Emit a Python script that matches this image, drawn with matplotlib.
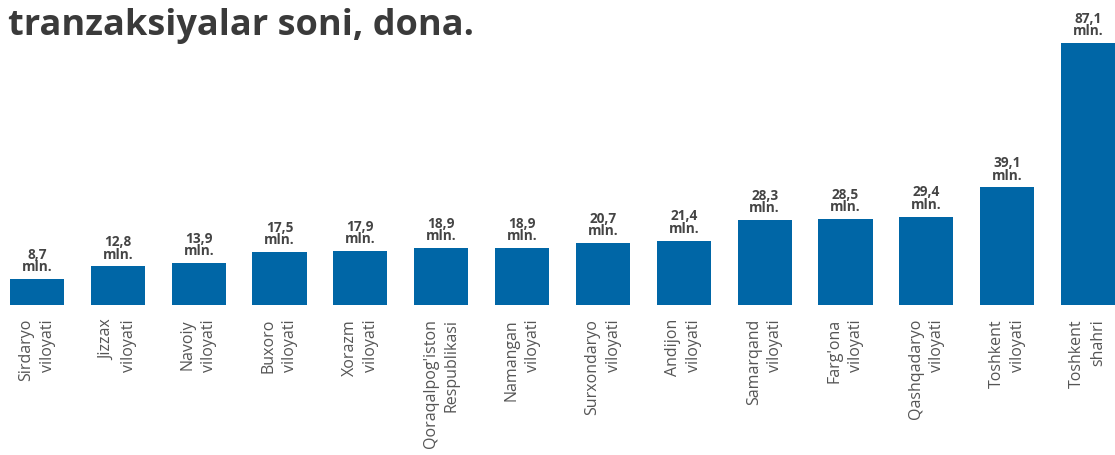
import matplotlib
matplotlib.use("Agg")
import matplotlib.pyplot as plt

# Regions and transaction counts (million)
regions = [
    "Sirdaryo\nviloyati", "Jizzax\nviloyati", "Navoiy\nviloyati", "Buxoro\nviloyati",
    "Xorazm\nviloyati", "Qoraqalpog'iston\nRespublikasi", "Namangan\nviloyati",
    "Surxondaryo\nviloyati", "Andijon\nviloyati", "Samarqand\nviloyati",
    "Farg'ona\nviloyati", "Qashqadaryo\nviloyati", "Toshkent\nviloyati", "Toshkent\nshahri",
]
values = [8.7, 12.8, 13.9, 17.5, 17.9, 18.9, 18.9, 20.7, 21.4, 28.3, 28.5, 29.4, 39.1, 87.1]
value_labels = ["8,7", "12,8", "13,9", "17,5", "17,9", "18,9", "18,9", "20,7",
                "21,4", "28,3", "28,5", "29,4", "39,1", "87,1"]
title_text = "tranzaksiyalar soni, dona."

BAR_COLOR = "#0066a6"
TEXT_COLOR = "#444444"
FONT = "Open Sans"

W, H = 1115, 455
fig = plt.figure(figsize=(W / 100, H / 100), dpi=100)
base_px = 150  # baseline height from the bottom of the figure
ax = fig.add_axes([0, base_px / H, 1, (H - base_px) / H])

x = list(range(len(values)))
ax.bar(x, values, width=0.67, color=BAR_COLOR, zorder=2)

step = (1088 - 37) / 13
ax.set_xlim(-37 / step, 13 + 27 / step)
ax.set_ylim(0, (H - base_px) / (262 / 87.1))
ax.axis("off")

for xi, v, lab in zip(x, values, value_labels):
    ax.annotate(f"{lab}\nmln.", (xi, v), xytext=(0, 3.5), textcoords="offset points",
                ha="center", va="bottom", fontsize=9.8, fontweight="bold",
                color=TEXT_COLOR, family=FONT, linespacing=0.85,
                annotation_clip=False)

for xi, name in zip(x, regions):
    ax.annotate(name, (xi, 0), xytext=(0, -10), textcoords="offset points",
                ha="center", va="top", rotation=90, multialignment="right",
                fontsize=11.5, color="#555555", family=FONT, linespacing=1.45,
                annotation_clip=False)

fig.text(8 / W, 1 - 35 / H, title_text, ha="left", va="baseline",
         fontsize=26, fontweight="bold", color="#3a3a3a", family=FONT)

fig.savefig("out.png", dpi=100, facecolor="white")
